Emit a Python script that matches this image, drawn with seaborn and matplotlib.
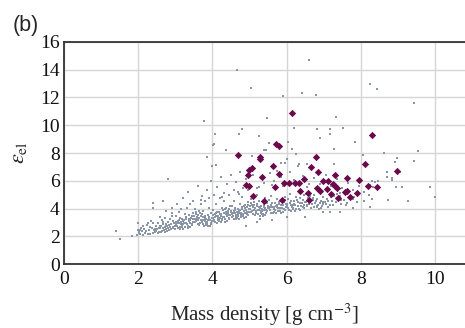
import matplotlib
matplotlib.use("Agg")
import matplotlib.pyplot as plt
import pandas as pd
import seaborn as sns

# Matériaux sélectionnés (losanges)
sel_density = [6.15, 8.30, 5.71, 5.80, 4.68, 5.28, 5.28, 6.80, 8.12, 8.97,
               5.08, 4.99, 4.97, 5.63, 6.67, 6.84, 5.80, 5.35, 7.31, 7.62,
               6.46, 7.95, 6.99, 7.12, 5.94, 6.07, 6.23, 6.33, 4.90, 4.99,
               5.70, 7.24, 7.30, 7.35, 8.19, 8.45, 6.81, 6.90, 7.10, 6.37,
               6.58, 7.58, 7.64, 7.91, 7.19, 5.10, 7.72, 7.39, 6.61, 5.88,
               5.38]
sel_eps = [10.88, 9.30, 8.65, 8.50, 7.86, 7.73, 7.57, 7.71, 7.20, 6.73,
           6.92, 6.77, 6.44, 7.06, 6.97, 6.60, 6.51, 6.27, 6.44, 6.20,
           6.13, 6.05, 5.98, 6.00, 5.84, 5.84, 5.84, 5.86, 5.67, 5.60,
           5.57, 5.79, 5.62, 5.50, 5.65, 5.55, 5.48, 5.28, 5.43, 5.26,
           5.14, 5.17, 5.28, 5.12, 5.04, 4.92, 4.83, 4.76, 4.64, 4.61,
           4.54]

# Nuage principal (points gris), lu approximativement sur la figure
cloud_pairs = [
    # 2.0 - 2.5
    (2.02, 2.31), (2.37, 2.58), (2.14, 2.07), (2.46, 2.29), (2.08, 2.63), (2.29, 2.44), (2.41, 2.93), (2.19, 2.26),
    (2.33, 2.19), (2.05, 2.15), (2.48, 2.71), (2.24, 2.82), (2.11, 2.39), (2.43, 2.46), (2.27, 2.13), (2.35, 3.08),
    (2.16, 2.54), (2.49, 2.36), (2.21, 2.35), (2.39, 2.24), (2.06, 2.48), (2.31, 2.67), (2.44, 2.55), (2.26, 2.98),
    (2.12, 2.71),
    # 2.5 - 3.0
    (2.51, 2.49), (2.93, 2.61), (2.67, 3.06), (2.78, 2.38), (2.58, 2.77), (2.86, 3.21), (2.62, 2.28), (2.97, 2.95),
    (2.71, 2.66), (2.55, 2.34), (2.83, 2.81), (2.69, 2.47), (2.91, 3.44), (2.60, 2.59), (2.75, 2.91), (2.88, 2.54),
    (2.53, 2.97), (2.79, 2.71), (2.65, 2.41), (2.99, 2.76), (2.73, 3.29), (2.57, 2.63), (2.84, 2.46), (2.68, 2.87),
    (2.95, 2.69), (2.63, 3.18), (2.81, 3.03), (2.54, 2.25), (2.89, 2.92), (2.76, 2.52), (2.61, 2.73), (2.94, 3.11),
    (2.72, 2.33), (2.86, 2.64), (2.59, 3.41), (2.80, 2.57), (2.66, 2.62), (2.98, 2.49), (2.74, 2.79), (2.90, 3.65),
    # 3.0 - 3.5
    (3.02, 2.88), (3.41, 3.17), (3.17, 2.64), (3.29, 3.38), (3.08, 3.12), (3.46, 2.81), (3.23, 2.99), (3.13, 2.52),
    (3.37, 3.52), (3.05, 2.73), (3.32, 2.91), (3.19, 3.26), (3.48, 3.04), (3.11, 2.96), (3.26, 2.70), (3.43, 3.33),
    (3.03, 3.43), (3.35, 2.62), (3.21, 3.09), (3.15, 2.85), (3.39, 2.97), (3.07, 2.58), (3.30, 3.21), (3.47, 3.71),
    (3.18, 2.78), (3.25, 3.57), (3.01, 3.06), (3.44, 2.89), (3.12, 3.30), (3.36, 3.10), (3.22, 2.55), (3.09, 3.78),
    (3.33, 2.77), (3.49, 3.24), (3.16, 3.01), (3.28, 2.93), (3.40, 2.68), (3.06, 2.95), (3.24, 3.16), (3.45, 3.47),
    (3.14, 2.69), (3.31, 4.02), (3.20, 2.89), (3.38, 3.28), (3.10, 3.19),
    # 3.5 - 4.0
    (3.98, 3.08), (3.59, 3.41), (3.83, 2.84), (3.71, 3.63), (3.92, 3.34), (3.54, 3.02), (3.77, 3.20), (3.87, 2.72),
    (3.63, 3.79), (3.95, 2.93), (3.68, 3.14), (3.81, 3.49), (3.52, 3.27), (3.89, 3.18), (3.74, 2.90), (3.57, 3.58),
    (3.97, 3.66), (3.65, 2.81), (3.79, 3.32), (3.85, 3.06), (3.61, 3.20), (3.93, 2.77), (3.70, 3.45), (3.53, 3.96),
    (3.82, 2.98), (3.75, 3.82), (3.99, 3.29), (3.56, 3.10), (3.88, 3.53), (3.64, 3.33), (3.78, 2.76), (3.91, 4.05),
    (3.67, 2.97), (3.51, 3.47), (3.84, 3.23), (3.72, 3.15), (3.60, 2.88), (3.94, 3.17), (3.76, 3.38), (3.55, 3.72),
    (3.86, 2.89), (3.69, 4.30), (3.80, 3.10), (3.62, 3.52), (3.90, 3.41), (3.73, 3.01), (3.58, 3.25), (3.96, 2.86),
    (3.66, 3.68), (3.79, 4.51),
    # 4.0 - 4.5
    (4.02, 3.33), (4.41, 3.66), (4.17, 3.09), (4.29, 3.88), (4.08, 3.59), (4.46, 3.27), (4.23, 3.45), (4.13, 2.97),
    (4.37, 4.04), (4.05, 3.18), (4.32, 3.39), (4.19, 3.74), (4.48, 3.52), (4.11, 3.43), (4.26, 3.15), (4.43, 3.83),
    (4.03, 3.91), (4.35, 3.06), (4.21, 3.57), (4.15, 3.31), (4.39, 3.45), (4.07, 3.02), (4.30, 3.70), (4.47, 4.21),
    (4.18, 3.23), (4.25, 4.07), (4.01, 3.54), (4.44, 3.35), (4.12, 3.78), (4.36, 3.58), (4.22, 3.01), (4.09, 4.30),
    (4.33, 3.22), (4.49, 3.72), (4.16, 3.48), (4.28, 3.40), (4.40, 3.13), (4.06, 3.42), (4.24, 3.63), (4.45, 3.97),
    (4.14, 3.14), (4.31, 4.55), (4.20, 3.35), (4.38, 3.77), (4.10, 3.66), (4.27, 3.26), (4.42, 3.50), (4.04, 3.11),
    (4.34, 3.93), (4.21, 4.78),
    # 4.5 - 5.0
    (4.52, 3.58), (4.91, 3.91), (4.67, 3.34), (4.79, 4.13), (4.58, 3.84), (4.96, 3.52), (4.73, 3.70), (4.63, 3.22),
    (4.87, 4.29), (4.55, 3.43), (4.82, 3.64), (4.69, 3.99), (4.98, 3.77), (4.61, 3.68), (4.76, 3.40), (4.93, 4.08),
    (4.53, 4.16), (4.85, 3.31), (4.71, 3.82), (4.65, 3.56), (4.89, 3.70), (4.57, 3.27), (4.80, 3.95), (4.97, 4.46),
    (4.68, 3.48), (4.75, 4.32), (4.51, 3.79), (4.94, 3.60), (4.62, 4.03), (4.86, 3.83), (4.72, 3.26), (4.59, 4.55),
    (4.83, 3.47), (4.99, 3.97), (4.66, 3.73), (4.78, 3.65), (4.90, 3.38), (4.56, 3.67), (4.74, 3.88), (4.95, 4.22),
    (4.64, 3.39), (4.81, 4.80), (4.70, 3.60), (4.88, 4.02), (4.60, 3.91), (4.77, 3.51), (4.92, 3.75), (4.54, 3.36),
    (4.84, 4.18), (4.71, 5.03),
    # 5.0 - 5.5
    (5.48, 3.83), (5.09, 4.11), (5.33, 3.57), (5.21, 4.33), (5.42, 4.07), (5.04, 3.73), (5.27, 3.92), (5.37, 3.46),
    (5.13, 4.49), (5.45, 3.66), (5.18, 3.85), (5.31, 4.20), (5.02, 3.98), (5.39, 3.90), (5.24, 3.62), (5.07, 4.29),
    (5.47, 4.39), (5.15, 3.53), (5.29, 4.03), (5.35, 3.79), (5.11, 3.91), (5.43, 3.50), (5.20, 4.16), (5.03, 4.67),
    (5.32, 3.70), (5.25, 4.53), (5.49, 4.01), (5.06, 3.81), (5.38, 4.24), (5.14, 4.05), (5.28, 3.48), (5.41, 4.76),
    (5.17, 3.68), (5.01, 4.18), (5.34, 3.95), (5.22, 3.87), (5.10, 3.60), (5.44, 3.89), (5.26, 4.10), (5.05, 4.43),
    (5.36, 3.61), (5.19, 5.00), (5.30, 3.82), (5.12, 4.23), (5.40, 4.12),
    # 5.5 - 6.0
    (5.52, 4.03), (5.91, 4.27), (5.67, 3.77), (5.79, 4.49), (5.58, 4.26), (5.96, 3.90), (5.73, 4.10), (5.63, 3.65),
    (5.87, 4.65), (5.55, 3.86), (5.82, 4.02), (5.69, 4.38), (5.98, 4.14), (5.61, 4.09), (5.76, 3.81), (5.93, 4.45),
    (5.53, 4.58), (5.85, 3.71), (5.71, 4.21), (5.65, 3.97), (5.89, 4.07), (5.57, 3.70), (5.80, 4.33), (5.97, 4.82),
    (5.68, 3.89), (5.75, 4.71), (5.51, 4.20), (5.94, 3.97), (5.62, 4.43), (5.86, 4.22), (5.72, 3.67), (5.59, 4.93),
    (5.83, 3.85), (5.99, 4.34), (5.66, 4.13), (5.78, 4.05), (5.90, 3.77), (5.56, 4.08), (5.74, 4.28), (5.95, 4.59),
    # 6.0 - 6.5
    (6.02, 4.18), (6.41, 4.41), (6.17, 3.93), (6.29, 4.63), (6.08, 4.40), (6.46, 4.05), (6.23, 4.25), (6.13, 3.81),
    (6.37, 4.79), (6.05, 4.01), (6.32, 4.17), (6.19, 4.52), (6.48, 4.29), (6.11, 4.24), (6.26, 3.96), (6.43, 4.59),
    (6.03, 4.72), (6.35, 3.87), (6.21, 4.36), (6.15, 4.12), (6.39, 4.21), (6.07, 3.86), (6.30, 4.47), (6.47, 4.95),
    (6.18, 4.04), (6.25, 4.85), (6.01, 4.35), (6.44, 4.12), (6.12, 4.57), (6.36, 4.37), (6.22, 3.83), (6.09, 5.06),
    (6.33, 4.00), (6.49, 4.48), (6.16, 4.28),
    # 6.5 - 7.0
    (6.98, 4.33), (6.59, 4.55), (6.83, 4.08), (6.71, 4.77), (6.92, 4.55), (6.54, 4.20), (6.77, 4.40), (6.87, 3.96),
    (6.63, 4.93), (6.95, 4.16), (6.68, 4.32), (6.81, 4.67), (6.52, 4.44), (6.89, 4.39), (6.74, 4.11), (6.57, 4.73),
    (6.97, 4.86), (6.65, 4.02), (6.79, 4.51), (6.85, 4.27), (6.61, 4.36), (6.93, 4.01), (6.70, 4.62), (6.53, 5.08),
    (6.82, 4.19), (6.75, 4.99), (6.99, 4.50), (6.56, 4.27),
    # 7.0 - 8.3
    (7.04, 4.48), (7.41, 4.70), (7.17, 4.23), (7.29, 4.92), (7.08, 4.70), (7.46, 4.36), (7.23, 4.55), (7.13, 4.12),
    (7.37, 5.08), (7.05, 4.31), (7.32, 4.47), (7.19, 4.82), (7.48, 4.59), (7.11, 4.54), (7.26, 4.27), (7.43, 4.88),
    (7.56, 4.62), (7.83, 4.85), (7.64, 4.38), (7.95, 5.02), (7.71, 4.93), (8.08, 4.52), (7.78, 4.69), (7.59, 4.29),
    (8.21, 4.97), (7.90, 4.44),
]

# Points dispersés au-dessus et au-dessous de la bande
scatter_pairs = [
    (3.05, 4.30), (3.20, 4.75), (3.35, 5.20), (3.48, 4.55), (3.60, 5.60), (3.72, 4.90), (3.85, 5.35), (3.95, 6.00),
    (4.05, 4.95), (4.12, 5.55), (4.22, 6.30), (4.30, 5.10), (4.40, 5.75), (4.50, 6.45), (4.58, 5.30), (4.65, 5.90),
    (4.75, 6.60), (4.82, 5.50), (4.90, 6.10), (5.00, 5.70), (5.10, 6.40), (5.20, 5.45), (5.30, 6.20), (5.40, 5.85),
    (5.55, 6.55), (5.65, 5.95), (5.75, 6.70), (5.85, 6.25), (5.95, 5.85), (6.10, 6.60), (6.20, 6.05), (6.35, 5.90),
    (6.45, 6.35), (6.60, 5.75), (6.75, 6.20), (6.90, 5.80), (7.05, 6.45), (7.20, 5.60), (7.35, 6.10), (7.50, 5.45),
    (7.65, 5.85), (7.80, 5.30), (7.95, 5.60), (8.10, 5.20), (2.90, 4.05), (2.75, 3.80), (3.15, 3.95), (3.40, 4.35),
    (3.70, 4.60), (3.90, 4.75), (4.25, 4.85), (4.45, 5.00), (4.70, 5.20), (4.95, 5.35), (5.25, 5.55), (5.60, 5.70),
    (5.90, 5.65), (6.25, 5.70), (6.55, 5.55), (6.85, 5.45), (7.15, 5.30), (7.45, 5.15),
    (8.25, 4.13), (7.80, 4.01), (7.45, 3.72), (7.17, 3.75), (6.99, 3.77), (6.51, 3.39), (6.00, 3.41), (5.60, 3.17),
    (5.28, 3.26), (5.19, 3.00), (4.91, 2.76),
    (1.40, 2.40), (1.51, 1.84), (1.82, 2.03), (1.99, 2.45), (2.00, 2.98), (2.02, 2.21), (1.96, 2.09),
    (2.41, 4.37), (2.41, 4.01), (2.67, 4.56), (2.81, 6.15),
]

# Valeurs isolées (grandes permittivités)
outlier_pairs = [
    (4.67, 14.00), (5.03, 12.68), (5.90, 12.13), (6.42, 12.35), (6.60, 14.70), (3.77, 10.28), (5.48, 10.55),
    (4.79, 9.75), (4.73, 9.37), (4.07, 9.39), (4.05, 8.63), (4.03, 8.58), (5.26, 9.25), (6.20, 9.78),
    (4.37, 8.24), (5.39, 8.22), (5.44, 8.22), (5.53, 8.70), (6.05, 8.77), (6.15, 8.31), (6.25, 7.95),
    (3.85, 7.71), (3.98, 7.06), (4.09, 7.16), (5.08, 7.78), (5.85, 7.26), (5.96, 7.26), (6.00, 7.59),
    (6.33, 7.20), (6.56, 7.20), (6.30, 7.06), (6.78, 12.16), (8.24, 12.95), (8.43, 12.61), (9.43, 11.60),
    (7.32, 10.62), (6.81, 9.75), (7.16, 9.75), (7.52, 9.78), (7.16, 9.39), (6.90, 9.06), (7.84, 8.82),
    (7.28, 8.31), (9.53, 8.17), (8.07, 7.83), (8.63, 7.98), (8.97, 7.66), (8.92, 7.33), (9.44, 7.45),
    (7.28, 7.20), (6.54, 7.20), (8.71, 6.63), (9.07, 6.65), (8.70, 6.29), (8.84, 6.22), (8.85, 6.05),
    (8.31, 5.98), (8.38, 5.93), (8.46, 5.98), (8.25, 5.69), (8.34, 5.53), (8.95, 5.57), (9.12, 5.53),
    (9.87, 5.55), (8.29, 4.68), (8.74, 4.64), (9.27, 4.54), (10.00, 4.80),
]

gray_pairs = cloud_pairs + scatter_pairs + outlier_pairs
gray_density = [p[0] for p in gray_pairs]
gray_eps = [p[1] for p in gray_pairs]

x_ticks = [0, 2, 4, 6, 8, 10]
y_ticks = [0, 2, 4, 6, 8, 10, 12, 14, 16]

GRIS = "#8a96a8"
POURPRE = "#6a0a4c"

sns.set_theme(style="whitegrid")
plt.rcParams["font.family"] = ["Liberation Serif", "DejaVu Serif"]
plt.rcParams["mathtext.fontset"] = "stix"

fig = plt.figure(figsize=(4.65, 3.28), dpi=100)
ax = fig.add_axes([0.1376, 0.195, 0.8624, 0.677])

df_gris = pd.DataFrame({"density": gray_density, "eps": gray_eps})
df_sel = pd.DataFrame({"density": sel_density, "eps": sel_eps})

sns.scatterplot(data=df_gris, x="density", y="eps", ax=ax, color=GRIS,
                marker="s", s=2.6, linewidth=0, zorder=2)
sns.scatterplot(data=df_sel, x="density", y="eps", ax=ax, color=POURPRE,
                marker="D", s=14, linewidth=0, zorder=3)

ax.set_xlim(0, 10.81)
ax.set_ylim(0, 16)
ax.set_xticks(x_ticks)
ax.set_yticks(y_ticks)
ax.grid(True, color="#d6d6d6", linewidth=1.0)
ax.tick_params(axis="both", length=0, labelsize=14, colors="#111111")
ax.tick_params(axis="x", pad=5)
ax.tick_params(axis="y", pad=3)

for cote in ["left", "bottom", "top"]:
    ax.spines[cote].set_visible(True)
    ax.spines[cote].set_color("#333333")
    ax.spines[cote].set_linewidth(1.3)
ax.spines["right"].set_visible(False)

ax.set_xlabel(r"Mass density [g cm$^{-3}$]", fontsize=15, labelpad=10)
ax.set_ylabel(r"$\varepsilon_{\mathrm{el}}$", fontsize=16, labelpad=8)

fig.text(0.027, 0.955, "(b)", family=["Liberation Sans", "DejaVu Sans"],
         fontsize=15.5, va="top", ha="left")

fig.savefig("out.png", dpi=100)
